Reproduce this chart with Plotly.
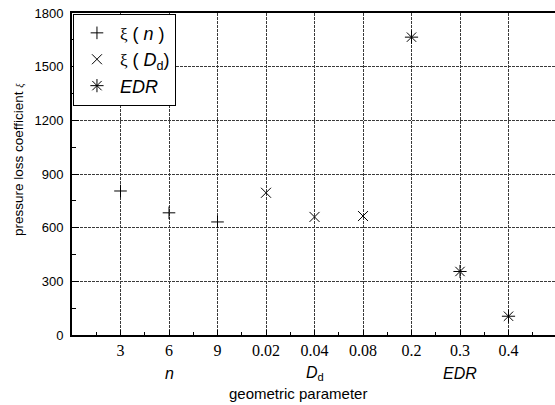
import plotly.graph_objects as go

# ---- data ----
tick_labels = ["3", "6", "9", "0.02", "0.04", "0.08", "0.2", "0.3", "0.4"]

n_cats = ["3", "6", "9"]
n_vals = [805, 683, 632]

dd_cats = ["0.02", "0.04", "0.08"]
dd_vals = [795, 660, 665]

edr_cats = ["0.2", "0.3", "0.4"]
edr_vals = [1665, 355, 105]

y_ticks = [0, 300, 600, 900, 1200, 1500, 1800]

pos = {lab: i + 1 for i, lab in enumerate(tick_labels)}

fig = go.Figure()
legend_font = dict(family="Liberation Sans, Arial", size=18, color="black")
serif_xi = '<span style="font-family:Liberation Serif;font-size:17px">ξ</span>'

fig.add_trace(go.Scatter(
    x=[pos[c] for c in n_cats], y=n_vals, mode="markers",
    name=serif_xi + " ( <i>n</i> )",
    marker=dict(symbol="cross-thin", size=9, line=dict(width=1, color="black"), color="black")))
fig.add_trace(go.Scatter(
    x=[pos[c] for c in dd_cats], y=dd_vals, mode="markers",
    name=serif_xi + " ( <i>D</i><sub>d</sub>)",
    marker=dict(symbol="x-thin", size=10, line=dict(width=1, color="black"), color="black")))
fig.add_trace(go.Scatter(
    x=[pos[c] for c in edr_cats], y=edr_vals, mode="markers",
    name="<i>EDR</i>",
    marker=dict(symbol="asterisk-open", size=11, line=dict(width=1, color="black"), color="black")))

W, H = 555, 405
ml, mr, mt, mb = 72, 0, 13, 70
x_right = 10 * (W - ml) / (557 - ml)

fig.update_layout(
    width=W, height=H,
    margin=dict(l=ml, r=mr, t=mt, b=mb, autoexpand=False),
    paper_bgcolor="white", plot_bgcolor="white",
    showlegend=True,
    legend=dict(x=0.002, y=0.998, xanchor="left", yanchor="top",
                bgcolor="white", bordercolor="black", borderwidth=1,
                font=legend_font, itemwidth=36),
    xaxis=dict(range=[0, x_right], tickvals=[pos[t] for t in tick_labels], ticktext=tick_labels,
               showline=True, linewidth=2, linecolor="black", mirror=True,
               ticks="inside", ticklen=5, tickwidth=1, tickcolor="black",
               minor=dict(dtick=0.5, tick0=0.5, ticks="inside", ticklen=3, tickcolor="black", showgrid=False),
               showgrid=True, gridcolor="#3a3a3a", gridwidth=1, griddash="3px,1px",
               tickfont=dict(family="Liberation Serif, Times New Roman", size=16, color="black"),
               zeroline=False, fixedrange=True),
    yaxis=dict(range=[0, 1800], tickvals=y_ticks,
               showline=True, linewidth=2, linecolor="black", mirror=False,
               ticks="inside", ticklen=7, tickwidth=1, tickcolor="black",
               minor=dict(dtick=150, ticks="inside", ticklen=4, tickcolor="black", showgrid=False),
               showgrid=True, gridcolor="#3a3a3a", gridwidth=1, griddash="3px,1px",
               tickfont=dict(family="Liberation Sans, Arial", size=13, color="black"),
               ticklabelstandoff=4,
               zeroline=False, fixedrange=True),
    font=dict(family="Liberation Sans, Arial", color="black"),
)

# group labels under axis
group_labels = [("<i>n</i>", "6"), ("<i>D</i><sub>d</sub>", "0.04"), ("<i>EDR</i>", "0.3")]
for txt, at in group_labels:
    fig.add_annotation(x=pos[at], y=0, xref="x", yref="paper", text=txt, showarrow=False,
                       yanchor="middle", yshift=-38, font=dict(size=16, color="black"))

fig.add_annotation(x=(298 - ml) / (W - ml), y=0, xref="paper", yref="paper",
                   text="geometric parameter", showarrow=False, yanchor="middle", yshift=-58,
                   font=dict(size=15, color="black"))

fig.add_annotation(x=-(ml - 18) / (W - ml), y=(H - mb - 160) / (H - mt - mb), xref="paper", yref="paper",
                   text='pressure loss coefficient <span style="font-family:Liberation Serif;font-size:10px"><i>ξ</i></span>',
                   showarrow=False, textangle=-90, xanchor="center", yanchor="middle",
                   font=dict(size=13.5, color="black"))

fig.write_html("out.html", config={"displayModeBar": False},
               post_script="document.body.style.margin='0';document.body.style.overflow='hidden';")
